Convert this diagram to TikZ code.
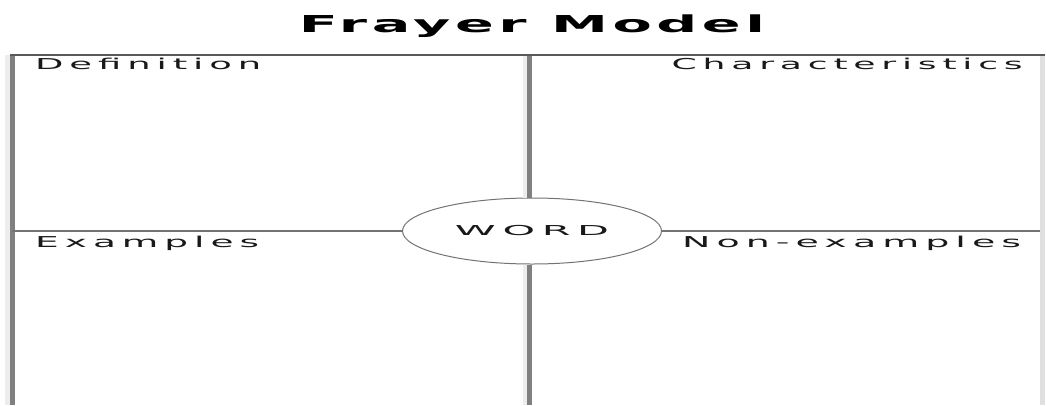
\documentclass[tikz,border=0pt]{standalone}
\usepackage{fontspec}
\usepackage{graphicx}
\usetikzlibrary{shapes.geometric}
\setmainfont{DejaVu Sans}
\newfontfamily\lblfont[LetterSpace=16]{DejaVu Sans}
\newfontfamily\ttlfont[LetterSpace=8]{DejaVu Sans}
\newcommand\fitw[2]{\resizebox{#1}{\height}{#2}}
\begin{document}
\begin{tikzpicture}[x=1pt,y=-1pt,
  lbl/.style={inner sep=0pt, text=black!90, font=\lblfont\fontsize{15}{18}\selectfont},
  ttl/.style={inner sep=0pt, text=black, font=\ttlfont\bfseries\fontsize{23.3}{28}\selectfont},
  frame/.style={draw=black!50, line width=5pt},
  shade/.style={draw=black!7, line width=5pt},
  topline/.style={draw=black!65, line width=2pt},
  midline/.style={draw=black!55, line width=1.5pt},
  wordnode/.style={ellipse, draw=black!55, line width=1pt, fill=white, minimum width=259pt, minimum height=66pt, inner sep=0pt, text=black!90, font=\lblfont\fontsize{13.7}{16}\selectfont}]
\useasboundingbox (0,0) rectangle (1046,405);
\fill[white] (0,0) rectangle (1046,405);
% coordinates
\coordinate (lst) at (7.5,55);
\coordinate (lsb) at (7.5,405);
\coordinate (lt) at (12.5,55);
\coordinate (lb) at (12.5,405);
\coordinate (rt) at (1042.5,55);
\coordinate (rb) at (1042.5,405);
\coordinate (tl) at (10,55);
\coordinate (tr) at (1045,55);
\coordinate (mst) at (525,56);
\coordinate (msb) at (525,405);
\coordinate (mt) at (529.5,56);
\coordinate (mb) at (529.5,405);
\coordinate (ml) at (12,231);
\coordinate (mr) at (1040,231);
% title
\node[ttl, anchor=base] (title) at (532,32) {\fitw{466pt}{Frayer Model}};
% word
\node[wordnode] (word) at (532,231) {\fitw{154pt}{WORD}};
% frame
\draw[shade] (lst) -- (lsb);
\draw[frame] (lt) -- (lb);
\draw[draw=black!12, line width=5pt] (rt) -- (rb);
\draw[shade] (mst) -- (mst |- word.north);
\draw[shade] (mst |- word.south) -- (msb);
\draw[frame] (mt) -- (mt |- word.north);
\draw[frame] (mt |- word.south) -- (mb);
\draw[topline] (tl) -- (tr);
\draw[midline] (ml) -- (word.west);
\draw[midline] (word.east) -- (mr);
% labels
\node[lbl, anchor=base west] (def) at (35,69.5) {\fitw{226pt}{Definition}};
\node[lbl, anchor=base east] (char) at (1023,69.5) {\fitw{351pt}{Characteristics}};
\node[lbl, anchor=base west] (ex) at (35,247) {\fitw{224pt}{Examples}};
\node[lbl, anchor=base west] (nex) at (682,247) {\fitw{339pt}{Non-examples}};
\end{tikzpicture}
\end{document}
